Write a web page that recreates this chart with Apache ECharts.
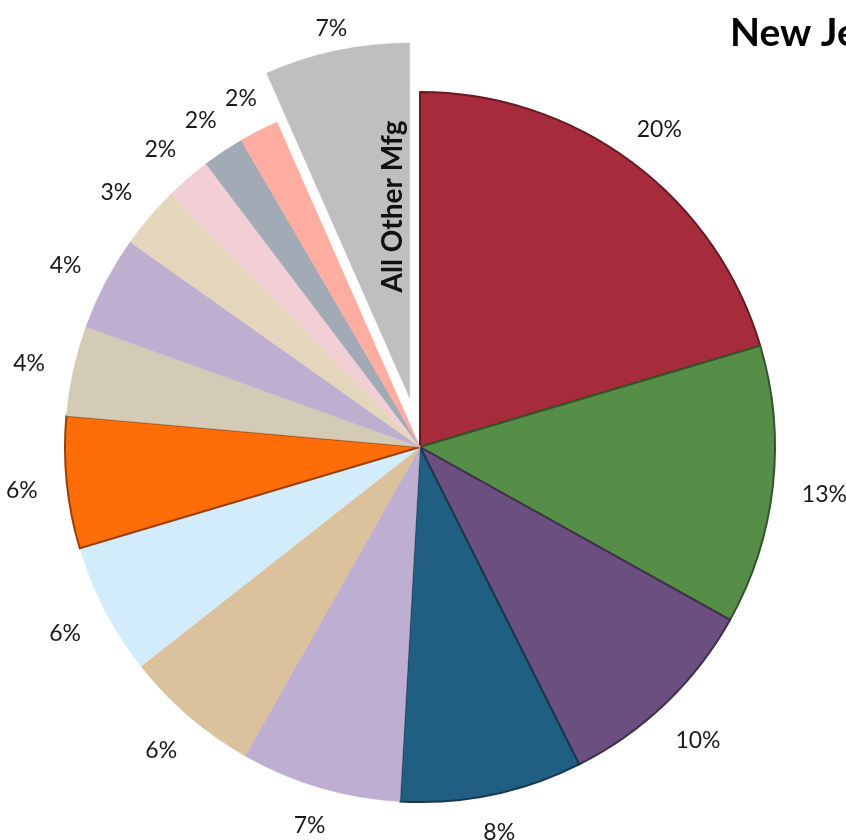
<!DOCTYPE html>
<html>
<head>
<meta charset="utf-8">
<script src="https://cdn.jsdelivr.net/npm/echarts@6/dist/echarts.min.js"></script>
<style>
html,body{margin:0;padding:0;background:#fff;}
#chart{width:846px;height:840px;}
</style>
</head>
<body>
<div id="chart"></div>
<script>
const categories = ['Mfg A','Mfg B','Mfg C','Mfg D','Mfg E','Mfg F','Mfg G','Mfg H','Mfg I','Mfg J','Mfg K','Mfg L','Mfg M','Mfg N','All Other Mfg'];
const shares = [20.4, 12.7, 9.5, 8.3, 7.3, 6.2, 6.0, 6.0, 4.1, 4.3, 2.8, 2.1, 1.9, 1.8, 6.6];
const colors = ['#A62B3B','#568E48','#6A4F80','#215F82','#BEAED2','#DBC19C','#D2ECFC','#FF6D08','#D3CBB6','#BEAED0','#E4D6BD','#F1CFD4','#A1AAB5','#FEADA0','#BFBFBF'];
const bevelled = [true,true,true,true,false,false,false,true,false,false,false,false,false,false,false];
const explodedName = 'All Other Mfg';
const titleText = 'New Jersey';

const CX = 420, CY = 447, R = 355;
const chart = echarts.init(document.getElementById('chart'), null, {renderer:'canvas'});

function darker(hex, f){
  const n = parseInt(hex.slice(1),16);
  const r = Math.round(((n>>16)&255)*f), g = Math.round(((n>>8)&255)*f), b = Math.round((n&255)*f);
  return 'rgb('+r+','+g+','+b+')';
}

const mainData = categories.map((c,i)=>({
  name:c, value:shares[i], selected: c===explodedName,
  itemStyle:{color:colors[i], borderColor: bevelled[i]?darker(colors[i],0.6):colors[i], borderWidth: bevelled[i]?2:0.5},
  label: c===explodedName ? {show:true, position:'inside', rotate:90, formatter:'{b}', fontSize:28, fontWeight:'bold', color:'#111', fontFamily:'Lato'} : {show:false}
}));
const labelData = categories.map((c,i)=>({name:c, value:shares[i], selected: c===explodedName}));

chart.setOption({
  animation:false,
  title:{text:titleText, left:725, top:9, textStyle:{fontSize:39, fontWeight:'bold', color:'#000', fontFamily:'Lato'}},
  series:[
    {
      type:'pie', center:[CX,CY], radius:[0,R], startAngle:90, clockwise:true,
      selectedMode:'single', selectedOffset:50, avoidLabelOverlap:false,
      emphasis:{disabled:true}, silent:true,
      labelLine:{show:false},
      labelLayout: function(p){ return p.dataIndex === categories.indexOf(explodedName) ? {dx:15, dy:20} : {}; },
      data: mainData
    },
    {
      type:'pie', center:[CX,CY], radius:[R+6,R+46], startAngle:90, clockwise:true,
      selectedMode:'single', selectedOffset:40, avoidLabelOverlap:false,
      emphasis:{disabled:true}, silent:true,
      itemStyle:{color:'rgba(0,0,0,0)', borderWidth:0},
      label:{show:true, position:'inside', fontSize:23, color:'#1a1a1a', fontFamily:'Lato',
        formatter:p=>Math.round(p.percent)+'%'},
      labelLine:{show:false},
      labelLayout: function(p){
        const r = p.labelRect;
        const ux = r.x + r.width/2 - CX, uy = r.y + r.height/2 - CY;
        const L = Math.hypot(ux, uy) || 1;
        const nx = ux/L, ny = uy/L;
        const h = Math.abs(nx)*r.width/2 + Math.abs(ny)*r.height*0.15;
        return {dx: nx*h, dy: ny*h + 3};
      },
      data: labelData
    }
  ]
});
</script>
</body>
</html>
